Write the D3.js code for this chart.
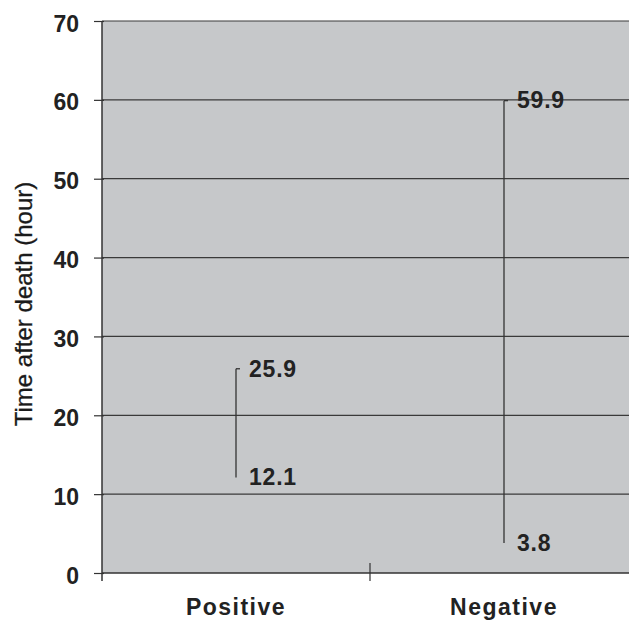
<!DOCTYPE html>
<html>
<head>
<meta charset="utf-8">
<script src="https://cdn.jsdelivr.net/npm/d3@7"></script>
<style>
  html, body { margin: 0; padding: 0; background: #fff; }
  svg { display: block; }
  text { font-family: "Liberation Sans", Arial, sans-serif; }
</style>
</head>
<body>
<div id="chart"></div>
<script>
const categories = ["Positive", "Negative"];
const lowValues = [12.1, 3.8];
const highValues = [25.9, 59.9];
const yTicks = [0, 10, 20, 30, 40, 50, 60, 70];
const yTitle = "Time after death (hour)";

const W = 629, H = 620;
const plot = { left: 102, top: 21, bottom: 573, right: 638 };

const svg = d3.select("#chart").append("svg")
  .attr("width", W).attr("height", H);

const x = d3.scaleBand().domain(categories).range([plot.left, plot.right]).padding(0);
const y = d3.scaleLinear().domain([0, 70]).range([plot.bottom, plot.top]);

// plot background
svg.append("rect")
  .attr("x", plot.left).attr("y", y(70))
  .attr("width", plot.right - plot.left).attr("height", y(0) - y(70))
  .attr("fill", "#c6c8ca");

// gridlines
svg.append("g").selectAll("line").data(yTicks.filter(d => d > 0)).join("line")
  .attr("x1", plot.left).attr("x2", plot.right)
  .attr("y1", d => y(d)).attr("y2", d => y(d))
  .attr("stroke", "#3a3a3a").attr("stroke-width", 1.2);

// y axis
const yAxis = svg.append("g")
  .attr("transform", `translate(${plot.left},0)`)
  .call(d3.axisLeft(y).tickValues(yTicks).tickSize(8).tickPadding(15));
yAxis.select(".domain").remove();
yAxis.selectAll(".tick line").attr("stroke", "#333").attr("stroke-width", 1.2).attr("x2", -8).attr("x1", 2);
yAxis.selectAll(".tick text")
  .attr("font-size", 23).attr("font-weight", "bold").attr("fill", "#222")
  .attr("dy", "0.44em");
svg.append("line")
  .attr("x1", plot.left).attr("x2", plot.left)
  .attr("y1", y(70)).attr("y2", y(0) + 8)
  .attr("stroke", "#333").attr("stroke-width", 1.5);

// x axis
svg.append("line")
  .attr("x1", plot.left).attr("x2", plot.right)
  .attr("y1", y(0)).attr("y2", y(0))
  .attr("stroke", "#333").attr("stroke-width", 1.5);
svg.append("g").selectAll("line").data(categories.slice(1)).join("line")
  .attr("x1", d => x(d)).attr("x2", d => x(d))
  .attr("y1", y(0) - 10).attr("y2", y(0) + 8)
  .attr("stroke", "#333").attr("stroke-width", 1.2);
svg.append("g").selectAll("text").data(categories).join("text")
  .attr("x", d => x(d) + x.bandwidth() / 2)
  .attr("y", 615)
  .attr("text-anchor", "middle")
  .attr("font-size", 23).attr("font-weight", "bold")
  .attr("letter-spacing", 1.5)
  .attr("fill", "#222")
  .text(d => d);

// y title
svg.append("text")
  .attr("transform", `translate(32,304) rotate(-90)`)
  .attr("text-anchor", "middle")
  .attr("font-size", 24)
  .attr("fill", "#1a1a1a")
  .attr("stroke", "#1a1a1a").attr("stroke-width", 0.3)
  .text(yTitle);

// high-low lines
const cx = d => x(d) + x.bandwidth() / 2;
const g = svg.append("g");
categories.forEach((c, i) => {
  g.append("line")
    .attr("x1", cx(c)).attr("x2", cx(c))
    .attr("y1", y(lowValues[i])).attr("y2", y(highValues[i]))
    .attr("stroke", "#333").attr("stroke-width", 1.3);
  g.append("line")
    .attr("x1", cx(c)).attr("x2", cx(c) + 4)
    .attr("y1", y(highValues[i])).attr("y2", y(highValues[i]))
    .attr("stroke", "#333").attr("stroke-width", 1.3);
  [lowValues[i], highValues[i]].forEach(v => {
    g.append("text")
      .attr("x", cx(c) + 13)
      .attr("y", y(v))
      .attr("dy", "0.34em")
      .attr("font-size", 23).attr("font-weight", "bold")
      .attr("letter-spacing", 0.8)
      .attr("fill", "#222")
      .text(v.toFixed(1));
  });
});
</script>
</body>
</html>
